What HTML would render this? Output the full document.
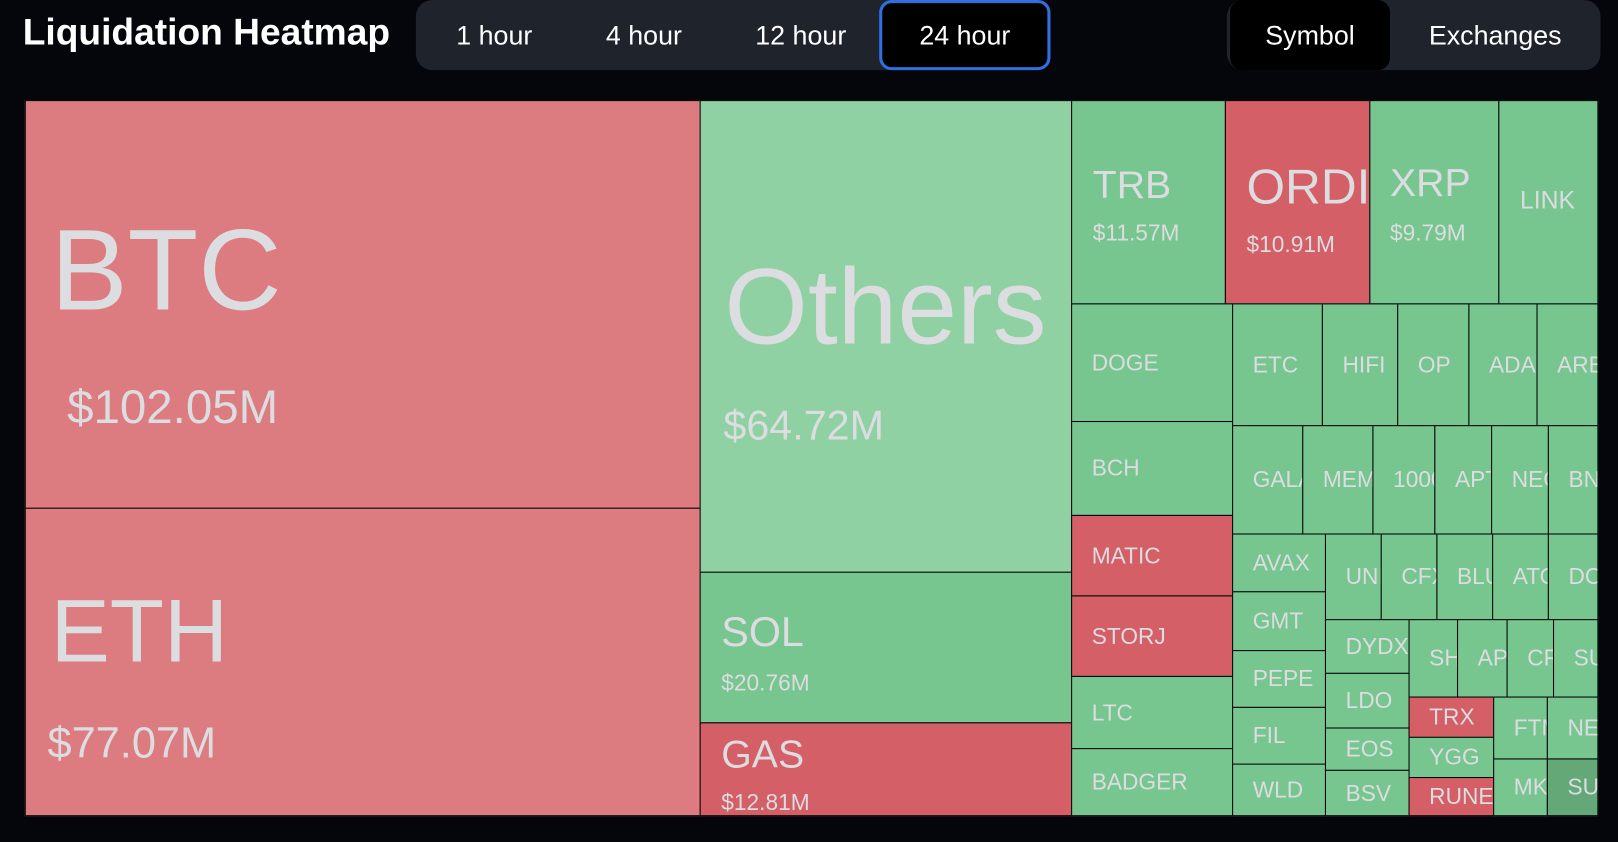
<!DOCTYPE html>
<html><head><meta charset="utf-8"><style>
html,body{margin:0;padding:0;background:#05060c;overflow:hidden;width:1618px;height:842px}
#w{position:absolute;left:0;top:0;width:1568px;height:816px;transform:scale(1.0319);transform-origin:0 0;font-family:"Liberation Sans","DejaVu Sans",sans-serif}
.c{position:absolute;border:1.3px solid #000;box-sizing:border-box;overflow:hidden;color:#dcdde0;white-space:nowrap}
.g{background:#77c58f}.r{background:#d55f66}
.s{display:flex;align-items:center;padding-left:19px;font-size:22px}
.t{position:absolute;line-height:1;white-space:nowrap;color:#dcdde0}
.pill{position:absolute;top:0;height:68px;background:#1f232b;border-radius:16px}
.btn{position:absolute;color:#fff;font-size:26px;line-height:68px;top:0;text-align:center}
.sel{background:#000;border-radius:12px;height:68px;box-sizing:border-box}
</style></head><body><div id="w">
<div class="t" style="left:22px;top:13px;font-size:36px;font-weight:bold;color:#fff">Liquidation Heatmap</div>
<div class="pill" style="left:403px;width:615px"></div>
<div class="btn" style="left:429px;width:100px">1 hour</div>
<div class="btn" style="left:574px;width:100px">4 hour</div>
<div class="btn" style="left:721px;width:110px">12 hour</div>
<div class="btn sel" style="left:852px;width:166px;border:3px solid #2f6fe0;line-height:62px">24 hour</div>
<div class="pill" style="left:1189px;width:362px"></div>
<div class="btn sel" style="left:1192px;width:155px">Symbol</div>
<div class="btn" style="left:1370px;width:158px">Exchanges</div>

<div class="c" style="left:24px;top:97px;width:655px;height:396px;background:#dc7c80">
<div class="t" style="left:24px;top:108px;font-size:112px">BTC</div>
<div class="t" style="left:40px;top:273px;font-size:46px">$102.05M</div></div>
<div class="c" style="left:24px;top:492px;width:655px;height:299px;background:#dc7c80">
<div class="t" style="left:24px;top:76px;font-size:86px">ETH</div>
<div class="t" style="left:21px;top:206px;font-size:42px">$77.07M</div></div>
<div class="c" style="left:678px;top:97px;width:361px;height:458px;background:#90d1a3">
<div class="t" style="left:23px;top:148px;font-size:104px">Others</div>
<div class="t" style="left:22px;top:295px;font-size:40px">$64.72M</div></div>
<div class="c g" style="left:678px;top:554px;width:361px;height:147px">
<div class="t" style="left:20px;top:38px;font-size:40px">SOL</div>
<div class="t" style="left:20px;top:96px;font-size:22px">$20.76M</div></div>
<div class="c r" style="left:678px;top:700px;width:361px;height:91px">
<div class="t" style="left:20px;top:12px;font-size:38px">GAS</div>
<div class="t" style="left:20px;top:66px;font-size:22px">$12.81M</div></div>
<div class="c g" style="left:1038px;top:97px;width:150px;height:198px">
<div class="t" style="left:20px;top:63px;font-size:38px">TRB</div>
<div class="t" style="left:20px;top:117px;font-size:22px">$11.57M</div></div>
<div class="c r" style="left:1187px;top:97px;width:141px;height:198px">
<div class="t" style="left:20px;top:60px;font-size:48px">ORDI</div>
<div class="t" style="left:20px;top:128px;font-size:22px">$10.91M</div></div>
<div class="c g" style="left:1327px;top:97px;width:126px;height:198px">
<div class="t" style="left:19px;top:61px;font-size:38px">XRP</div>
<div class="t" style="left:19px;top:117px;font-size:22px">$9.79M</div></div>
<div class="c g" style="left:1452px;top:97px;width:97px;height:198px">
<div class="t" style="left:20px;top:85px;font-size:24px">LINK</div></div>

<div class="c g s" style="left:1038px;top:294px;width:157px;height:115px">DOGE</div>
<div class="c g s" style="left:1038px;top:408px;width:157px;height:92px">BCH</div>
<div class="c r s" style="left:1038px;top:499px;width:157px;height:79px">MATIC</div>
<div class="c r s" style="left:1038px;top:577px;width:157px;height:79px">STORJ</div>
<div class="c g s" style="left:1038px;top:655px;width:157px;height:71px">LTC</div>
<div class="c g s" style="left:1038px;top:725px;width:157px;height:66px">BADGER</div>

<div class="c g s" style="left:1194px;top:294px;width:88px;height:119px">ETC</div>
<div class="c g s" style="left:1281px;top:294px;width:74px;height:119px">HIFI</div>
<div class="c g s" style="left:1354px;top:294px;width:70px;height:119px">OP</div>
<div class="c g s" style="left:1423px;top:294px;width:67px;height:119px">ADA</div>
<div class="c g s" style="left:1489px;top:294px;width:60px;height:119px">ARB</div>

<div class="c g s" style="left:1194px;top:412px;width:69px;height:106px">GALA</div>
<div class="c g s" style="left:1262px;top:412px;width:69px;height:106px">MEME</div>
<div class="c g s" style="left:1330px;top:412px;width:61px;height:106px">1000</div>
<div class="c g s" style="left:1390px;top:412px;width:56px;height:106px">APT</div>
<div class="c g s" style="left:1445px;top:412px;width:56px;height:106px">NEO</div>
<div class="c g s" style="left:1500px;top:412px;width:49px;height:106px">BNB</div>

<div class="c g s" style="left:1194px;top:517px;width:91px;height:57px">AVAX</div>
<div class="c g s" style="left:1194px;top:573px;width:91px;height:58px">GMT</div>
<div class="c g s" style="left:1194px;top:630px;width:91px;height:56px">PEPE</div>
<div class="c g s" style="left:1194px;top:685px;width:91px;height:56px">FIL</div>
<div class="c g s" style="left:1194px;top:740px;width:91px;height:51px">WLD</div>

<div class="c g s" style="left:1284px;top:517px;width:55px;height:84px">UNI</div>
<div class="c g s" style="left:1338px;top:517px;width:55px;height:84px">CFX</div>
<div class="c g s" style="left:1392px;top:517px;width:55px;height:84px">BLUR</div>
<div class="c g s" style="left:1446px;top:517px;width:55px;height:84px">ATOM</div>
<div class="c g s" style="left:1500px;top:517px;width:49px;height:84px">DOT</div>

<div class="c g s" style="left:1284px;top:600px;width:82px;height:53px">DYDX</div>
<div class="c g s" style="left:1284px;top:652px;width:82px;height:54px">LDO</div>
<div class="c g s" style="left:1284px;top:705px;width:82px;height:42px">EOS</div>
<div class="c g s" style="left:1284px;top:746px;width:82px;height:45px">BSV</div>

<div class="c g s" style="left:1365px;top:600px;width:48px;height:76px">SHIB</div>
<div class="c g s" style="left:1412px;top:600px;width:49px;height:76px">API3</div>
<div class="c g s" style="left:1460px;top:600px;width:46px;height:76px">CRV</div>
<div class="c g s" style="left:1505px;top:600px;width:44px;height:76px">SUI</div>

<div class="c r s" style="left:1365px;top:675px;width:83px;height:40px">TRX</div>
<div class="c g s" style="left:1365px;top:714px;width:83px;height:40px">YGG</div>
<div class="c r s" style="left:1365px;top:753px;width:83px;height:38px">RUNE</div>
<div class="c g s" style="left:1447px;top:675px;width:53px;height:61px">FTM</div>
<div class="c g s" style="left:1499px;top:675px;width:50px;height:61px">NEAR</div>
<div class="c g s" style="left:1447px;top:735px;width:53px;height:56px">MKR</div>
<div class="c s" style="left:1499px;top:735px;width:50px;height:56px;background:#64a877">SUSHI</div>
</div></body></html>
